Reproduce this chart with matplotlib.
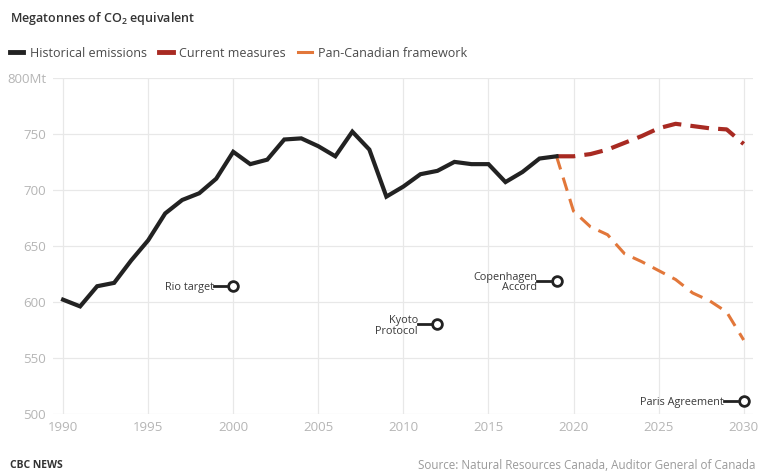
import numpy as np
import matplotlib
matplotlib.use('Agg')
import matplotlib.pyplot as plt
from matplotlib.lines import Line2D

plt.rcParams['font.family'] = ['Open Sans', 'DejaVu Sans']
plt.rcParams['mathtext.fontset'] = 'custom'
plt.rcParams['mathtext.rm'] = 'Open Sans'
plt.rcParams['mathtext.default'] = 'regular'

# Emissions, megatonnes CO2 equivalent
hist_years = list(range(1990, 2020))
hist_values = [602, 596, 614, 617, 637, 655, 679, 691, 697, 710,
               734, 723, 727, 745, 746, 739, 730, 752, 736, 694,
               703, 714, 717, 725, 723, 723, 707, 716, 728, 730]

proj_years = list(range(2019, 2031))
current_values = [730, 730, 732, 736, 742, 748, 755, 759, 757, 755, 754, 741]
pancan_values = [730, 681, 667, 660, 643, 636, 628, 620, 608, 601, 591, 566]

# Targets
target_labels = ['Rio target', 'Kyoto\nProtocol', 'Copenhagen\nAccord', 'Paris Agreement']
target_years = [2000, 2012, 2019, 2030]
target_values = [614, 580, 619, 512]

x_ticks = [1990, 1995, 2000, 2005, 2010, 2015, 2020, 2025, 2030]
y_ticks = [500, 550, 600, 650, 700, 750, 800]
y_ticklabels = ['500', '550', '600', '650', '700', '750', '800Mt']

black = '#222222'
red = '#a82a22'
orange = '#e2773a'

fig = plt.figure(figsize=(7.58, 4.72), dpi=100)
ax = fig.add_axes([0.070, 0.123, 0.923, 0.712])

ax.plot(hist_years, hist_values, color=black, lw=3, solid_joinstyle='miter', zorder=4)
ax.plot(proj_years, current_values, color=red, lw=3, dashes=(4.5, 2.2), zorder=3)
ax.plot(proj_years, pancan_values, color=orange, lw=2.2, dashes=(4.5, 2.8), zorder=3)

# target markers with short leader lines and labels
for label, yr, val in zip(target_labels, target_years, target_values):
    ax.plot(yr, val, 'o', ms=7, mfc='white', mec=black, mew=2, zorder=5)
    ax.plot([yr - 1.15, yr - 0.4], [val, val], color=black, lw=2, zorder=5)
    ax.text(yr - 1.15, val - 1.5, label, ha='right', va='center', fontsize=7.8,
            color='#3a3a3a', linespacing=0.95, zorder=5)

ax.set_xlim(1989.41, 2030.53)
ax.set_ylim(500, 800)
ax.set_xticks(x_ticks)
ax.set_yticks(y_ticks)
ax.set_yticklabels(y_ticklabels)
ax.tick_params(length=0, labelsize=9.5, labelcolor='#b5b5b5', pad=5)
ax.grid(True, color='#e8e8e8', lw=0.9)
ax.set_axisbelow(True)
for s in ax.spines.values():
    s.set_visible(False)

fig.text(0.013, 0.960, 'Megatonnes of CO$_2$ equivalent', fontsize=9,
         color='#333333', va='center', weight='semibold')

handles = [Line2D([], [], color=black, lw=3.5),
           Line2D([], [], color=red, lw=3.5),
           Line2D([], [], color=orange, lw=2.2)]
fig.legend(handles, ['Historical emissions', 'Current measures', 'Pan-Canadian framework'],
           loc='center left', bbox_to_anchor=(-0.002, 0.887), ncol=3, frameon=False,
           fontsize=9, labelcolor='#4a4a4a', handlelength=1.1, handletextpad=0.5,
           columnspacing=1.0)

fig.text(0.013, 0.014, 'CBC NEWS', fontsize=7.5, color='#333333', weight='bold', va='center')
fig.text(0.997, 0.014, 'Source: Natural Resources Canada, Auditor General of Canada',
         fontsize=8.4, color='#9a9a9a', va='center', ha='right')

fig.savefig('out.png', dpi=100)
